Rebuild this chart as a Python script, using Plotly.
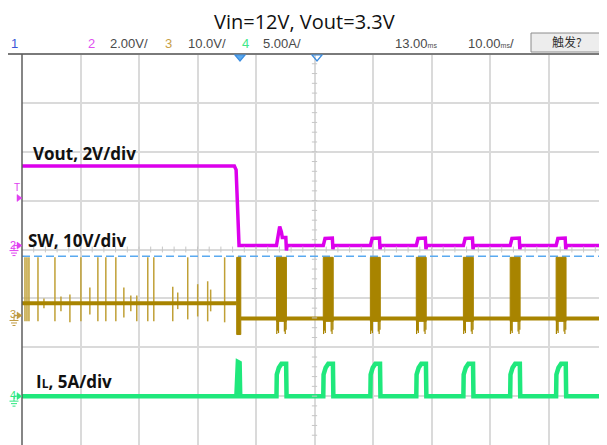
import plotly.graph_objects as go

# ---------------- figure geometry ----------------
# the page body has an 8px margin, so the figure is shrunk by that much
PAGE_W, PAGE_H = 607, 445
OFF = 8
W, H = PAGE_W - OFF, PAGE_H - OFF
PL, PT = 22, 54                 # plot-area left / top on the page
ML, MT = PL - OFF, PT - OFF
PW, PH = W - ML, H - MT

# ---------------- scope settings ----------------
t_center = 13.0      # ms (horizontal delay)
t_div = 10.0         # ms/div
n_xdiv, n_ydiv = 10, 8
vout_scale, vout_gnd = 2.0, 4.08    # V/div, ground position (div from bottom)
sw_scale, sw_gnd = 10.0, 2.65
il_scale, il_gnd = 5.0, 1.0
trig_level_div = 3.86

# ---------------- data ----------------
# Vout (V)
vout_t = [-37.0, -0.7, -0.4, -0.15, 0.1]
vout_v = [3.26, 3.26, 3.1, 1.5, 0.0]
burst_t = [6.5, 14.5, 22.55, 30.4, 38.45, 46.45, 54.3, 62.3]   # hiccup burst starts (ms)
burst_w = 1.7
vout_hump1_off = [0.0, 0.2, 0.55, 0.85, 1.0, 1.6, 1.7, 1.8]
vout_hump1_v = [0.0, 0.35, 0.78, 0.55, 0.33, 0.33, -0.2, 0.0]
vout_bump_off = [0.0, 0.15, 0.3, 1.55, 1.65, 1.75]
vout_bump_v = [0.0, 0.22, 0.29, 0.31, -0.15, 0.0]

# SW (V)
sw_pre_level = 2.5
sw_post_level = -0.6
spike_t = [-36.49, -36.15, -35.81, -34.27, -33.25, -31.37, -30.34, -28.81, -26.93,
           -25.40, -24.03, -22.67, -20.96, -19.59, -18.40, -17.38, -15.50, -14.47,
           -11.23, -10.38, -8.67, -6.97, -5.26, -4.75, -2.36]
spike_hi = [11.9, 11.9, 11.9, 11.9, 3.5, 11.9, 3.9, 4.3, 11.9,
            5.7, 11.9, 11.9, 11.9, 5.7, 4.1, 4.1, 11.9, 11.9,
            5.9, 4.7, 11.9, 6.4, 7.0, 5.3, 11.9]
spike_lo = [-1.2, -1.2, -1.2, -1.2, 1.5, -1.2, 0.85, -1.4, -1.2,
            0.2, -1.2, -1.2, -1.2, -0.4, 0.85, -1.2, -1.2, -1.2,
            -1.2, 1.3, -0.8, -0.2, -1.2, 0.85, -1.4]
sw_fault_t = [-0.3, 0.4]
sw_fault_hi, sw_fault_lo = 11.9, -3.9
sw_burst_hi, sw_burst_lo = 11.9, -1.2
sw_dip_off = [0.05, 0.2, 0.35, 1.35, 1.5, 1.65]
sw_dip_v = [-3.8, -3.1, -3.6, -3.3, -3.8, -2.9]

# IL (A)
il_pre_level = 0.0
il_fault_t = [-0.35, -0.1, 0.2, 0.3]
il_fault_v = [0.0, 3.5, 3.4, 0.0]
il_pulse_off = [0.0, 0.05, 0.4, 0.85, 1.65, 1.72]
il_pulse_v = [0.0, 2.2, 2.9, 3.3, 3.3, 0.0]

# ---------------- colours ----------------
C_VOUT = "#dc00ec"
C_SW = "#a88400"
C_SW_SPK = "#c0a036"
C_IL = "#1fe87c"
C_TRIG = "#5aaaf0"
C_GRID = "#dadada"

x_range = [t_center - 5 * t_div, t_center + 5 * t_div]
t_end = x_range[1]


def axis_range(scale, gnd):
    return [-gnd * scale, (n_ydiv - gnd) * scale]


# ---------------- build series ----------------
# Vout
vx, vy = list(vout_t), list(vout_v)
for i, t0 in enumerate(burst_t):
    offs, vals = (vout_hump1_off, vout_hump1_v) if i == 0 else (vout_bump_off, vout_bump_v)
    for o, v in zip(offs, vals):
        if t0 + o <= t_end:
            vx.append(t0 + o)
            vy.append(v)
vx.append(t_end)
vy.append(0.0)

# SW baseline
swx = [x_range[0], sw_fault_t[0], None, sw_fault_t[1], t_end]
swy = [sw_pre_level, sw_pre_level, None, sw_post_level, sw_post_level]
# SW pre-fault spikes
spx, spy = [], []
for t, hi, lo in zip(spike_t, spike_hi, spike_lo):
    spx += [t, t, None]
    spy += [lo, hi, None]
# SW bursts (filled blocks)
bx, by = [], []
for t0, t1, hi, lo in [(sw_fault_t[0], sw_fault_t[1], sw_fault_hi, sw_fault_lo)] + \
        [(t, min(t + burst_w, t_end + 1), sw_burst_hi, sw_burst_lo) for t in burst_t]:
    bx += [t0, t0, t1, t1, t0, None]
    by += [lo, hi, hi, lo, lo, None]
# SW dips at burst edges
dx, dy = [], []
for t0 in burst_t:
    for o, v in zip(sw_dip_off, sw_dip_v):
        if t0 + o <= t_end:
            dx += [t0 + o, t0 + o, None]
            dy += [sw_post_level, v, None]

# IL
ix = [x_range[0]] + il_fault_t
iy = [il_pre_level] + il_fault_v
for t0 in burst_t:
    for o, v in zip(il_pulse_off, il_pulse_v):
        if t0 + o <= t_end:
            ix.append(t0 + o)
            iy.append(v)
ix.append(t_end)
iy.append(0.0 if burst_t[-1] + il_pulse_off[-1] <= t_end else il_pulse_v[-2])

fig = go.Figure()

# trigger level dashed line
fig.add_trace(go.Scatter(x=x_range, y=[trig_level_div, trig_level_div], mode="lines",
                         line=dict(color=C_TRIG, width=1.5, dash="8px,4px"),
                         yaxis="y", hoverinfo="skip", showlegend=False))

fig.add_trace(go.Scatter(x=spx, y=spy, mode="lines", line=dict(color=C_SW_SPK, width=1.5),
                         yaxis="y3", showlegend=False, hoverinfo="skip"))
fig.add_trace(go.Scatter(x=dx, y=dy, mode="lines", line=dict(color=C_SW, width=1.2),
                         yaxis="y3", showlegend=False, hoverinfo="skip"))
fig.add_trace(go.Scatter(x=bx, y=by, mode="lines", fill="toself", fillcolor=C_SW,
                         line=dict(color=C_SW, width=1), yaxis="y3",
                         showlegend=False, hoverinfo="skip"))
fig.add_trace(go.Scatter(x=swx, y=swy, mode="lines", line=dict(color=C_SW, width=4),
                         yaxis="y3", showlegend=False, hoverinfo="skip"))
fig.add_trace(go.Scatter(x=vx, y=vy, mode="lines", line=dict(color=C_VOUT, width=3.5),
                         yaxis="y2", showlegend=False, hoverinfo="skip"))
fig.add_trace(go.Scatter(x=ix, y=iy, mode="lines", line=dict(color=C_IL, width=4.5),
                         yaxis="y4", showlegend=False, hoverinfo="skip"))

# ---------------- helpers for decorations (page pixel -> paper) ----------------
def px2p(px):
    return (px - PL) / PW


def py2p(py):
    return (PAGE_H - py) / PH


shapes = []
annotations = []

# centre-line minor ticks
xc = t_center
for k in range(1, n_ydiv * 5):
    yv = k / 5.0
    shapes.append(dict(type="line", xref="x", yref="y", x0=xc - 0.45, x1=xc + 0.45,
                       y0=yv, y1=yv, line=dict(color="#c6c6c6", width=1)))
for k in range(1, n_xdiv * 5):
    xv = x_range[0] + k * t_div / 5.0
    shapes.append(dict(type="line", xref="x", yref="y", x0=xv, x1=xv,
                       y0=n_ydiv / 2 - 0.06, y1=n_ydiv / 2 + 0.06,
                       line=dict(color="#c6c6c6", width=1)))

# borders
shapes.append(dict(type="line", xref="paper", yref="paper", x0=px2p(8), x1=px2p(607),
                   y0=py2p(54), y1=py2p(54), line=dict(color="#7a7a7a", width=2)))
shapes.append(dict(type="line", xref="paper", yref="paper", x0=0, x1=0,
                   y0=0, y1=1, line=dict(color="#5e5e5e", width=1.5)))


def tri_down(pcx, pty, w, h, filled):
    path = "M {} {} L {} {} L {} {} Z".format(px2p(pcx - w / 2), py2p(pty),
                                              px2p(pcx + w / 2), py2p(pty),
                                              px2p(pcx), py2p(pty + h))
    shapes.append(dict(type="path", xref="paper", yref="paper", path=path,
                       fillcolor=C_TRIG if filled else "rgba(0,0,0,0)",
                       line=dict(color="#3c8de0", width=1.2)))


def tri_right(plx, pcy, w, h, color):
    path = "M {} {} L {} {} L {} {} Z".format(px2p(plx), py2p(pcy - h / 2),
                                              px2p(plx), py2p(pcy + h / 2),
                                              px2p(plx + w), py2p(pcy))
    shapes.append(dict(type="path", xref="paper", yref="paper", path=path,
                       fillcolor=color, line=dict(color=color, width=0.5)))


def ch_marker(label, gnd_div, color):
    pcy = PAGE_H - gnd_div * PH / n_ydiv
    annotations.append(dict(xref="paper", yref="paper", x=px2p(8.5), y=py2p(pcy - 1),
                            text=label, showarrow=False, xanchor="left", yanchor="middle",
                            borderpad=0,
                            font=dict(family="Liberation Sans", size=11, color=color)))
    shapes.append(dict(type="line", xref="paper", yref="paper", x0=px2p(14), x1=px2p(17),
                       y0=py2p(pcy), y1=py2p(pcy), line=dict(color=color, width=1)))
    shapes.append(dict(type="line", xref="paper", yref="paper", x0=px2p(14), x1=px2p(14),
                       y0=py2p(pcy), y1=py2p(pcy + 5), line=dict(color=color, width=1)))
    tri_right(17, pcy, 5, 7, color)
    for j, hw in enumerate([4.5, 3, 1.5]):
        yy = pcy + 5 + j * 2.5
        shapes.append(dict(type="line", xref="paper", yref="paper", x0=px2p(14 - hw),
                           x1=px2p(14 + hw), y0=py2p(yy), y1=py2p(yy),
                           line=dict(color=color, width=1)))


tri_down(240, 55, 10, 6, True)
tri_down(317, 55, 10, 6, False)

ch_marker("2", vout_gnd, "#e040f0")
ch_marker("3", sw_gnd, "#c09a40")
ch_marker("4", il_gnd, "#2ee880")

# trigger "T" marker
annotations.append(dict(xref="paper", yref="paper", x=px2p(17), y=py2p(187), text="T",
                        showarrow=False, xanchor="center", yanchor="middle",
                        font=dict(family="Liberation Sans", size=10, color="#e040f0")))
tri_right(17, 198, 5, 7, "#e040f0")

# header row
HDR = "Liberation Sans Narrow, Arial Narrow, Liberation Sans"
hy = py2p(43)


def hdr(px, text, color, anchor="left", size=13):
    annotations.append(dict(xref="paper", yref="paper", x=px2p(px), y=hy, text=text,
                            showarrow=False, xanchor=anchor, yanchor="middle", borderpad=0,
                            font=dict(family=HDR, size=size, color=color)))


hdr(14, "1", "#3a56d8", "center")
hdr(91, "2", "#e050f0", "center")
hdr(109, "2.00V/", "#4a4a4a")
hdr(168, "3", "#c8a048", "center")
hdr(187, "10.0V/", "#4a4a4a")
hdr(245, "4", "#3ee888", "center")
hdr(262, "5.00A/", "#4a4a4a")
hdr(394, "13.00<span style='font-size:7px'>ms</span>", "#4a4a4a")
hdr(467, "10.00<span style='font-size:7px'>ms</span>/", "#4a4a4a")

shapes.append(dict(type="rect", xref="paper", yref="paper", x0=px2p(531), x1=px2p(604),
                   y0=py2p(52), y1=py2p(33), fillcolor="#ededed",
                   line=dict(color="#8c8c8c", width=1)))
annotations.append(dict(xref="paper", yref="paper", x=px2p(567), y=py2p(42), text="触发?",
                        showarrow=False, xanchor="center", yanchor="middle", borderpad=0,
                        font=dict(family="Noto Sans CJK SC", size=12, color="#333333")))

# title
annotations.append(dict(xref="paper", yref="paper", x=px2p(304), y=py2p(21),
                        text="Vin=12V, Vout=3.3V", showarrow=False, xanchor="center",
                        yanchor="middle", borderpad=0,
                        font=dict(family="Open Sans", size=20, color="#111111")))

# channel labels
LBL = dict(family="Open Sans", size=17, color="#111111")
annotations.append(dict(xref="paper", yref="paper", x=px2p(31), y=py2p(153),
                        text="<b>Vout, 2V/div</b>", showarrow=False, xanchor="left",
                        yanchor="middle", font=LBL))
annotations.append(dict(xref="paper", yref="paper", x=px2p(26), y=py2p(240),
                        text="<b>SW, 10V/div</b>", showarrow=False, xanchor="left",
                        yanchor="middle", font=LBL))
annotations.append(dict(xref="paper", yref="paper", x=px2p(34), y=py2p(381),
                        text="<b>I<span style='font-size:12px'>L</span>, 5A/div</b>",
                        showarrow=False, xanchor="left", yanchor="middle", font=LBL))

hidden = dict(showgrid=False, zeroline=False, showticklabels=False, ticks="",
              showline=False, fixedrange=True)

fig.update_layout(
    width=W, height=H,
    margin=dict(l=ML, r=0, t=MT, b=0, pad=0),
    paper_bgcolor="white", plot_bgcolor="white",
    showlegend=False,
    xaxis=dict(range=x_range, tick0=x_range[0], dtick=t_div, showgrid=True,
               gridcolor=C_GRID, gridwidth=1.5, zeroline=False, showticklabels=False,
               ticks="", showline=False, fixedrange=True),
    yaxis=dict(range=[0, n_ydiv], dtick=1, tick0=0, showgrid=True, gridcolor=C_GRID,
               gridwidth=1.5, zeroline=False, showticklabels=False, ticks="",
               showline=False, fixedrange=True),
    yaxis2=dict(range=axis_range(vout_scale, vout_gnd), overlaying="y", **hidden),
    yaxis3=dict(range=axis_range(sw_scale, sw_gnd), overlaying="y", **hidden),
    yaxis4=dict(range=axis_range(il_scale, il_gnd), overlaying="y", **hidden),
    shapes=shapes,
    annotations=annotations,
)

fig.write_html("out.html")
